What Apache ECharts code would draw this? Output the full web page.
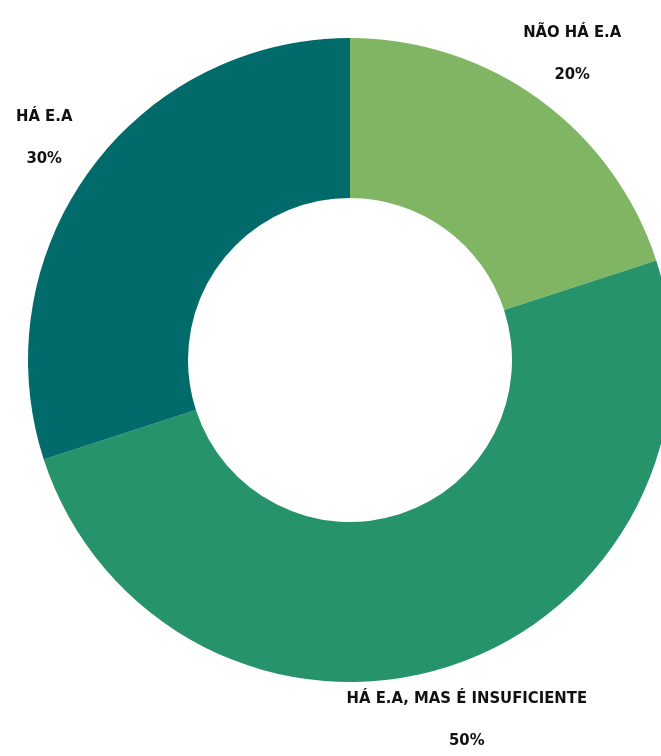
<!DOCTYPE html>
<html>
<head>
<meta charset="utf-8">
<script src="https://cdn.jsdelivr.net/npm/echarts@6/dist/echarts.min.js"></script>
<style>
html,body{margin:0;padding:0;background:#fff;}
#chart{width:661px;height:756px;}
</style>
</head>
<body>
<div id="chart"></div>
<script>
const categories = ['NÃO HÁ E.A', 'HÁ E.A, MAS É INSUFICIENTE', 'HÁ E.A'];
const values = [20, 50, 30];
const colors = ['#80b663', '#27936a', '#016a6b'];

const chart = echarts.init(document.getElementById('chart'), null, {renderer: 'canvas'});
chart.setOption({
  animation: false,
  backgroundColor: '#ffffff',
  series: [{
    type: 'pie',
    center: [350, 360],
    radius: [162, 322],
    startAngle: 90,
    clockwise: true,
    avoidLabelOverlap: false,
    itemStyle: {borderWidth: 0},
    data: categories.map((c, i) => ({name: c, value: values[i], itemStyle: {color: colors[i]}})),
    label: {
      show: true,
      position: 'outside',
      distanceToLabelLine: 0,
      formatter: p => p.name + '\n' + p.value + '%',
      fontFamily: '"DejaVu Sans Condensed", "Liberation Sans Narrow", sans-serif',
      fontWeight: 'bold',
      fontSize: 16.5,
      lineHeight: 42,
      color: '#111111',
      align: 'center'
    },
    labelLine: {show: false, length: 56, length2: 0},
    labelLayout: function () {
      return {align: 'center', verticalAlign: 'middle'};
    }
  }]
});
</script>
</body>
</html>
